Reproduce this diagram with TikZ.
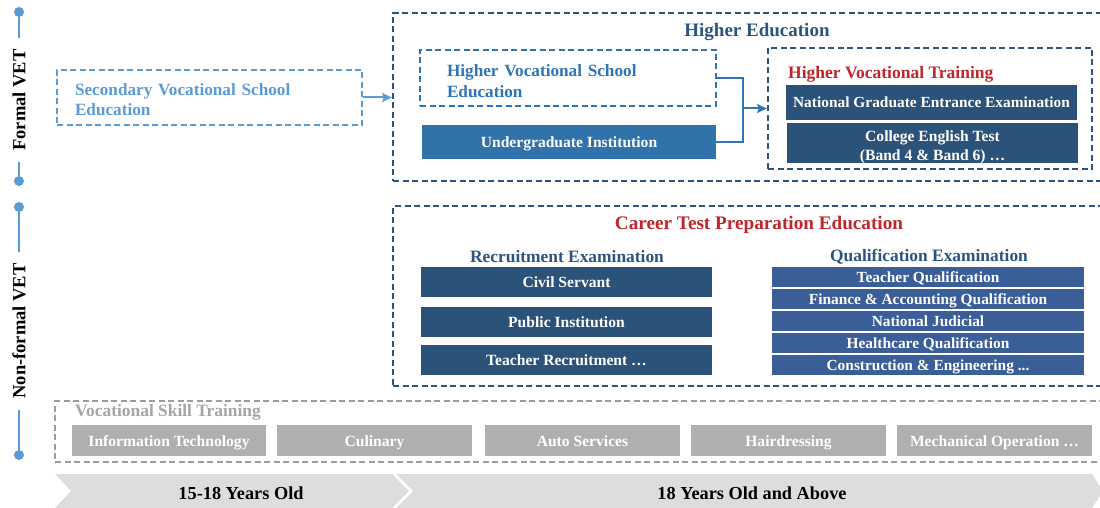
\documentclass[tikz,border=0pt]{standalone}
\usepackage{fontspec}
\setmainfont{Liberation Serif}
\usetikzlibrary{arrows.meta}
\definecolor{lblue}{HTML}{5B9BD5}
\definecolor{mblue}{HTML}{2E75B6}
\definecolor{ugblue}{HTML}{3072AA}
\definecolor{dblue}{HTML}{2C5480}
\definecolor{nblue}{HTML}{2B5278}
\definecolor{qblue}{HTML}{3A5E98}
\definecolor{hred}{HTML}{C0272D}
\definecolor{gbox}{HTML}{AEAFB1}
\definecolor{gdash}{HTML}{9C9C9C}
\definecolor{gtitle}{HTML}{A5A5A5}
\definecolor{chev}{HTML}{DCDDDF}
\tikzset{
  dbox/.style={draw, line width=2.1pt, dash pattern=on 6pt off 3.5pt, rectangle, inner sep=0pt},
  fbox/.style={rectangle, inner sep=0pt, text=white, font=\bfseries\fontsize{15.6}{17}\selectfont, text height=1.1em, text depth=0pt},
  qbox/.style={fbox, fill=qblue, minimum width=312, minimum height=20, font=\bfseries\fontsize{15.4}{16}\selectfont, text height=1.0em},
  rbox/.style={fbox, fill=nblue, minimum width=291, minimum height=30},
  gbx/.style={fbox, fill=gbox, minimum width=195, minimum height=31, font=\bfseries\fontsize{15.6}{17}\selectfont},
  dot/.style={circle, fill=lblue, inner sep=0pt, minimum size=10pt},
  side/.style={rotate=90, font=\bfseries\fontsize{18.5}{20}\selectfont, inner sep=11pt},
  conn/.style={draw=mblue, line width=2pt},
  arr/.style={-{Stealth[length=10pt,width=9pt,inset=2pt]}},
}
\begin{document}
\begin{tikzpicture}[x=1pt,y=-1pt]
\useasboundingbox (0,0) rectangle (1100,508);
\clip (0,0) rectangle (1100,508);
% timeline
\node[dot] (d1) at (19,12) {};
\node[dot] (d2) at (19,181) {};
\node[dot] (d3) at (19,207) {};
\node[dot] (d4) at (19,455) {};
\node[side] (fvet) at (19,100) {Formal VET};
\node[side] (nvet) at (19,331) {Non-formal VET};
\draw[lblue, line width=2pt] (d1) -- (fvet.east) (fvet.west) -- (d2);
\draw[lblue, line width=2pt] (d3) -- (nvet.east) (nvet.west) -- (d4);
% secondary
\node[dbox, draw=lblue, minimum width=305, minimum height=55, text width=269, inner xsep=18pt, align=left, text=lblue, font=\bfseries\fontsize{17.2}{19.5}\selectfont] (sec) at (209.5,97.5) {\rule{0pt}{16.5pt}Secondary Vocational School\\Education};
% higher education
\node[dbox, draw=dblue, minimum width=712, minimum height=168] (he) at (749,97) {};
\node[text=dblue, font=\bfseries\fontsize{19}{20}\selectfont] (het) at (757,32) {Higher Education};
\node[dbox, draw=mblue, minimum width=296, minimum height=56, text width=242, inner xsep=27pt, align=left, text=mblue, font=\bfseries\fontsize{17.2}{21}\selectfont] (hvse) at (568,78) {\rule{0pt}{17.5pt}Higher Vocational School\\Education};
\node[fbox, fill=ugblue, minimum width=294, minimum height=34] (ug) at (569,142) {Undergraduate Institution};
\node[dbox, draw=dblue, minimum width=324, minimum height=121] (hvt) at (930,108.5) {};
\node[anchor=west, inner sep=0pt, text=hred, font=\bfseries\fontsize{17.5}{19}\selectfont] (hvtt) at (788,74) {Higher Vocational Training};
\node[fbox, fill=nblue, minimum width=291, minimum height=35, font=\bfseries\fontsize{15.4}{17}\selectfont] (ngee) at (931.5,102.5) {National Graduate Entrance Examination};
\node[rectangle, inner sep=0pt, text=white, align=center, fill=nblue, minimum width=291, minimum height=34, font=\bfseries\fontsize{15.6}{19}\selectfont] (cet) at (932.5,143) {\rule{0pt}{18.5pt}College English Test\\(Band 4 \& Band 6) \dots};
\coordinate (j) at (743,108.5);
\draw[conn, draw=lblue, arr] (sec.east) -- (he.west |- sec.east);
\draw[conn] (hvse.east) -| (j);
\draw[conn] (ug.east) -| (j);
\draw[conn, arr] (j) -- (hvt.west);
% career
\node[dbox, draw=dblue, minimum width=712, minimum height=180] (ct) at (749,296) {};
\node[text=hred, font=\bfseries\fontsize{19.2}{21}\selectfont] (ctt) at (759,224.5) {Career Test Preparation Education};
\node[text=dblue, font=\bfseries\fontsize{17.4}{19}\selectfont] (rec) at (567,257) {Recruitment Examination};
\node[text=dblue, font=\bfseries\fontsize{17.4}{19}\selectfont] (qua) at (929,257) {Qualification Examination};
\node[rbox] (r1) at (566.5,282) {Civil Servant};
\node[rbox] (r2) at (566.5,322) {Public Institution};
\node[rbox] (r3) at (566.5,360) {Teacher Recruitment \dots};
\node[qbox] (q1) at (928,277) {Teacher Qualification};
\node[qbox] (q2) at (928,299) {Finance \& Accounting Qualification};
\node[qbox] (q3) at (928,321) {National Judicial};
\node[qbox] (q4) at (928,343) {Healthcare Qualification};
\node[qbox] (q5) at (928,365) {Construction \& Engineering ...};
% vocational skill
\node[dbox, draw=gdash, line width=1.8pt, minimum width=1055, minimum height=61] (vst) at (582.5,431.5) {};
\node[anchor=west, inner sep=0pt, text=gtitle, font=\bfseries\fontsize{17.4}{19}\selectfont] (vstt) at (75,412.5) {Vocational Skill Training};
\node[gbx, minimum width=194] (g1) at (169,440.5) {Information Technology};
\node[gbx] (g2) at (374.5,440.5) {Culinary};
\node[gbx] (g3) at (582.5,440.5) {Auto Services};
\node[gbx] (g4) at (788.5,440.5) {Hairdressing};
\node[gbx] (g5) at (994.5,440.5) {Mechanical Operation \dots};
% age chevrons
\fill[chev] (55,474) -- (392,474) -- (409,491) -- (392,508) -- (55,508) -- (71,491) -- cycle;
\fill[chev] (396,474) -- (1092,474) -- (1103,491) -- (1092,508) -- (396,508) -- (413,491) -- cycle;
\node[font=\bfseries\fontsize{18.3}{20}\selectfont] (a1) at (241,493) {15-18 Years Old};
\node[font=\bfseries\fontsize{18.3}{20}\selectfont] (a2) at (752,493) {18 Years Old and Above};
\end{tikzpicture}
\end{document}
